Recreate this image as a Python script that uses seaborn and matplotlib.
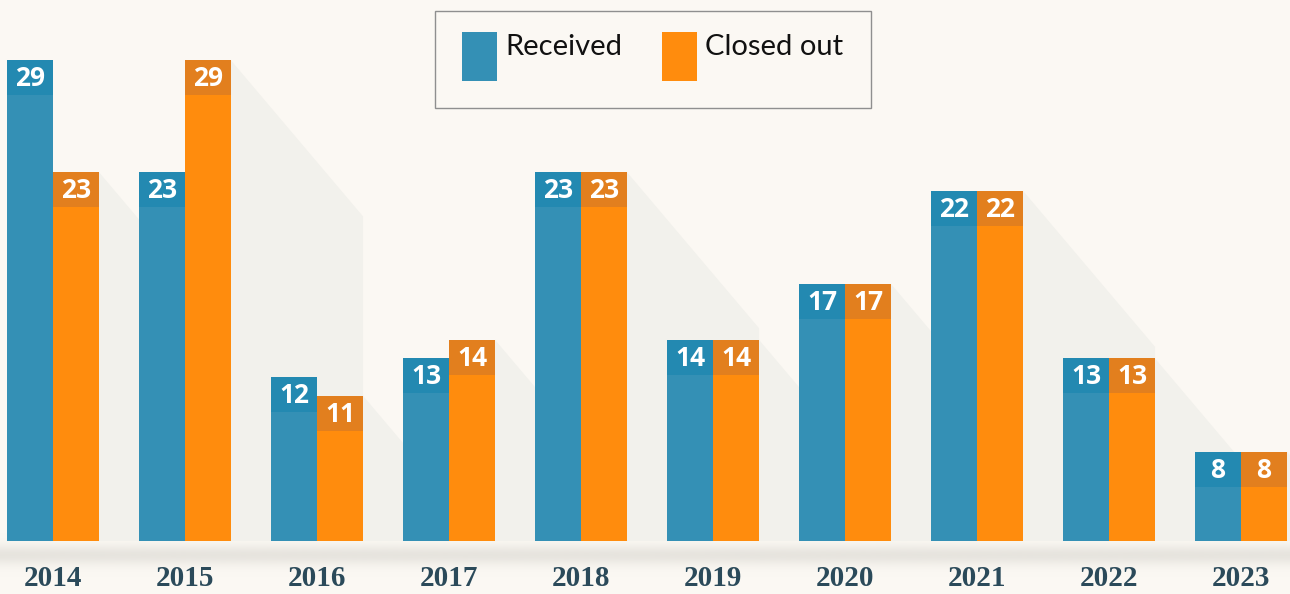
import numpy as np
import pandas as pd
import matplotlib.pyplot as plt
import seaborn as sns
from matplotlib.patches import Rectangle, Polygon
from matplotlib.colors import to_rgb

# ─────────────────────────────────────────────
# DATA
# ─────────────────────────────────────────────
years      = ["2014", "2015", "2016", "2017", "2018", "2019", "2020", "2021", "2022", "2023"]
received   = [29, 23, 12, 13, 23, 14, 17, 22, 13, 8]
closed_out = [23, 29, 11, 14, 23, 14, 17, 22, 13, 8]
series     = ["Received", "Closed out"]

# ─────────────────────────────────────────────
# STYLE
# ─────────────────────────────────────────────
BG         = "#FBF8F3"
BLUE       = "#3490B5"
ORANGE     = "#FF8C0D"
BLUE_TAG   = "#2389B1"
ORANGE_TAG = "#E27F1E"
SHADOW     = "#F2F1EC"
YEAR_CLR   = "#2B4A5A"

W, H    = 1290, 594          # output size in px
PX_UNIT = 18.63              # px per value unit
Y_BASE  = 3.2                # value sitting on the baseline
TAG     = 35 / PX_UNIT       # height of the darker label cap
DROP    = 156 / PX_UNIT      # shadow drop over one group step


def fx(px):
    return px / W


def fy(py):
    return 1 - py / H


df = pd.DataFrame({
    "year":   years * 2,
    "series": [series[0]] * len(years) + [series[1]] * len(years),
    "value":  received + closed_out,
})

sns.set_theme(style="white")
plt.rcParams["font.family"] = ["Open Sans", "DejaVu Sans"]

fig = plt.figure(figsize=(W / 100, H / 100), dpi=100, facecolor=BG)

# soft ground shadow under the bars
gax = fig.add_axes([0, fy(585), 1, (585 - 530) / H])
gax.axis("off")
rows = np.linspace(530, 585, 100)
img = np.zeros((len(rows), 1, 4))
img[..., :3] = to_rgb("#D3D1CA")
img[:, 0, 3] = 0.5 * np.exp(-((rows - 555) / 10.0) ** 2)
gax.imshow(img, aspect="auto", extent=[0, 1, 0, 1], interpolation="bilinear")

# main axes
ax = fig.add_axes([0, fy(541), 1, 541 / H])
ax.patch.set_alpha(0)

sns.barplot(data=df, x="year", y="value", hue="series", hue_order=series,
            palette=[BLUE, ORANGE], width=0.697, saturation=1,
            linewidth=0, legend=False, ax=ax, zorder=2)

bars = list(ax.patches)
n = len(years)

# diagonal shadows cast from each group's right bar
for p in bars[n:]:
    xr  = p.get_x() + p.get_width()
    top = p.get_height()
    ax.add_patch(Polygon([(xr, top), (xr + 1.0, top - DROP), (xr + 1.0, 0), (xr, 0)],
                         closed=True, facecolor=SHADOW, edgecolor="none", zorder=1))

# darker caps with value labels
for i, p in enumerate(bars):
    h   = p.get_height()
    clr = BLUE_TAG if i < n else ORANGE_TAG
    ax.add_patch(Rectangle((p.get_x(), h - TAG), p.get_width(), TAG,
                           facecolor=clr, edgecolor="none", zorder=3))
    ax.text(p.get_x() + p.get_width() / 2, h - TAG / 2 - 0.05, f"{int(h)}",
            ha="center", va="center", color="white", fontsize=19,
            fontweight="bold", zorder=4)

ax.set_xlim(-53 / 132, (W - 53) / 132)
ax.set_ylim(Y_BASE, Y_BASE + 541 / PX_UNIT)
ax.set_xlabel("")
ax.set_ylabel("")
ax.set_yticks([])
ax.tick_params(axis="x", length=0, pad=17, labelsize=21, labelcolor=YEAR_CLR)
for lbl in ax.get_xticklabels():
    lbl.set_fontfamily("Liberation Serif")
    lbl.set_fontweight("bold")
for s in ax.spines.values():
    s.set_visible(False)

# legend box (drawn by hand to keep the tall swatches)
fig.add_artist(Rectangle((fx(435), fy(108)), fx(871) - fx(435), (108 - 11) / H,
                         transform=fig.transFigure, fill=False,
                         edgecolor="#8F8F8F", linewidth=1))
for x0, name, clr in [(462, series[0], BLUE), (662, series[1], ORANGE)]:
    fig.add_artist(Rectangle((fx(x0), fy(81)), fx(35), (81 - 32) / H,
                             transform=fig.transFigure, facecolor=clr,
                             edgecolor="none"))
    fig.text(fx(x0 + 43), fy(55), name, fontsize=21, family="Lato",
             va="baseline", ha="left", color="#111111")

plt.savefig("out.png", dpi=100, facecolor=BG)
